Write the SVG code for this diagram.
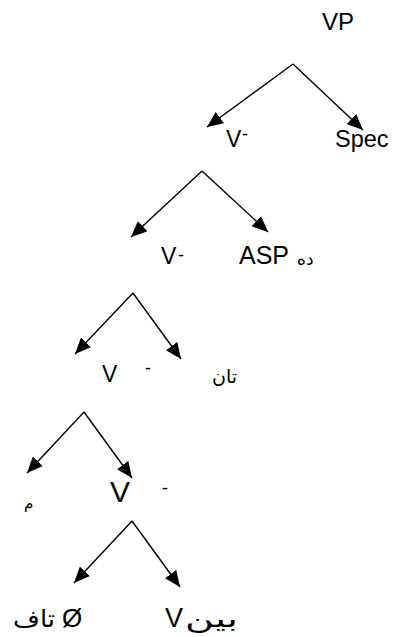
<svg xmlns="http://www.w3.org/2000/svg" width="396" height="637" viewBox="0 0 396 637">
<style>
.t{font-family:"Liberation Sans",Arial,sans-serif;fill:#000}
.a{font-family:"DejaVu Sans","Liberation Sans",sans-serif;fill:#000}
.m{font-family:"Liberation Sans",Arial,sans-serif;fill:#000;font-size:18px}
.e{stroke:#000;stroke-width:1.4;fill:none;marker-end:url(#ah)}
</style>
<defs>
<marker id="ah" markerUnits="userSpaceOnUse" markerWidth="18" markerHeight="14" refX="16" refY="7" orient="auto">
<path d="M0,0 L16,7 L0,14 Z" fill="#000"/>
</marker>
</defs>
<rect width="396" height="637" fill="#fff"/>
<g id="connectors">
<path class="e" d="M293,64 L207,127"/>
<path class="e" d="M293,64 L363,130"/>
<path class="e" d="M202,171 L131,237"/>
<path class="e" d="M202,171 L268,232"/>
<path class="e" d="M133,293 L75,354"/>
<path class="e" d="M133,293 L181,359"/>
<path class="e" d="M84,412 L27,473"/>
<path class="e" d="M84,412 L132,478"/>
<path class="e" d="M132,521 L74,583"/>
<path class="e" d="M132,521 L180,587"/>
</g>
<g id="n-vp"><text class="t" x="322" y="30" font-size="24">VP</text></g>
<g id="n-v1"><text class="t" x="226" y="147" font-size="23">V</text><text class="m" x="242" y="140">-</text></g>
<g id="n-spec"><text class="t" x="335" y="147" font-size="23.5">Spec</text></g>
<g id="n-v2"><text class="t" x="161" y="264" font-size="23">V</text><text class="m" x="178" y="261">-</text></g>
<g id="n-asp"><text class="t" x="239" y="264" font-size="25">ASP</text><text class="a" x="297" y="265" font-size="17">ده</text></g>
<g id="n-v3"><text class="t" x="102" y="382" font-size="23">V</text><text class="m" x="145" y="374">-</text></g>
<g id="n-tan"><text class="a" x="212" y="383" font-size="19">تان</text></g>
<g id="n-m"><text class="a" x="24" y="508" font-size="15">م</text></g>
<g id="n-v4"><text class="t" x="110" y="502" font-size="30">V</text><text class="m" x="162" y="494">-</text></g>
<g id="n-taf"><text class="a" x="13" y="627" font-size="24" textLength="42" lengthAdjust="spacingAndGlyphs">تاف</text><text class="t" x="62" y="627" font-size="26">Ø</text></g>
<g id="n-bin"><text class="t" x="165" y="627" font-size="27">V</text><text class="a" x="185" y="627" font-size="24" textLength="53" lengthAdjust="spacingAndGlyphs">بين</text></g>
</svg>
